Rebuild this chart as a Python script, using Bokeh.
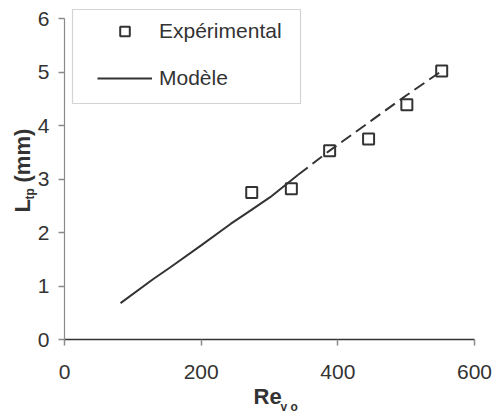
import math
from bokeh.plotting import figure
from bokeh.models import (FixedTicker, Range1d, Legend, LegendItem, Label,
                          BoxAnnotation)
from bokeh.embed import file_html
from bokeh.resources import INLINE

# ---- data ----
exp_re = [274, 332, 388, 445, 501, 552]
exp_l = [2.75, 2.82, 3.53, 3.75, 4.39, 5.02]

model_re = [82, 130, 155, 200, 243, 272, 301, 342]
model_l = [0.68, 1.13, 1.35, 1.76, 2.16, 2.41, 2.66, 3.08]

extra_re = [342, 388, 450, 500, 552]
extra_l = [3.08, 3.53, 4.10, 4.56, 5.02]

x_ticks = [0, 200, 400, 600]
y_ticks = [0, 1, 2, 3, 4, 5, 6]

FONT = "Liberation Sans"
DARK = "#333333"

# ---- geometry (canvas pixels) ----
W, H = 495, 417
AX_L, AX_R, AX_T, AX_B = 64, 474, 18, 339   # where 0..600 / 0..6 fall
kx = (AX_R - AX_L) / 600.0
ky = (AX_B - AX_T) / 6.0

p = figure(width=W, height=H, output_backend="svg", toolbar_location=None,
           x_range=Range1d(-AX_L / kx, (W - AX_L) / kx),
           y_range=Range1d(-(H - AX_B) / ky, AX_B / ky),
           min_border=0)
p.outline_line_color = None
p.grid.visible = False
p.background_fill_color = "white"
p.border_fill_color = "white"

for ax in (p.xaxis[0], p.yaxis[0]):
    ax.major_label_text_font = FONT
    ax.major_label_text_font_size = "21px"
    ax.major_label_text_color = DARK
    ax.major_tick_in = 0
    ax.major_tick_out = 6
    ax.minor_tick_line_color = None
    ax.major_tick_line_color = "#8a8a8a"
    ax.major_tick_line_width = 1.5
    ax.axis_label = None
    ax.fixed_location = 0

p.xaxis.ticker = FixedTicker(ticks=x_ticks)
p.yaxis.ticker = FixedTicker(ticks=y_ticks)
p.xaxis.bounds = (x_ticks[0], x_ticks[-1])
p.yaxis.bounds = (y_ticks[0], y_ticks[-1])
p.xaxis.axis_line_color = DARK
p.xaxis.axis_line_width = 1.5
p.yaxis.axis_line_color = "#8a8a8a"
p.yaxis.axis_line_width = 1.2
p.xaxis.major_label_standoff = 19
p.yaxis.major_label_standoff = 9

model = p.line(model_re, model_l, line_color=DARK, line_width=2)
p.line(extra_re, extra_l, line_color=DARK, line_width=2, line_dash="12 6")
exp = p.scatter(exp_re, exp_l, marker="square", size=11, line_color=DARK,
                line_width=2, fill_alpha=0)

# legend: items placed in frame screen units (origin bottom-left)
legend = Legend(items=[LegendItem(label="Expérimental", renderers=[exp]),
                       LegendItem(label="Modèle", renderers=[model])],
                location=(97, H - 90), padding=0, margin=0,
                glyph_width=55, glyph_height=24, label_height=24,
                spacing=23, label_standoff=7,
                label_text_font=FONT, label_text_font_size="21px",
                label_text_color=DARK,
                border_line_alpha=0, background_fill_alpha=0)
p.add_layout(legend)

box = BoxAnnotation(left=72, right=300, bottom=H - 103, top=H - 9,
                    left_units="screen", right_units="screen",
                    bottom_units="screen", top_units="screen",
                    fill_alpha=0, line_color="#6e6e6e", line_width=1.2,
                    level="overlay")
p.add_layout(box)


def lab(px, py, text, size, angle=0.0):
    p.add_layout(Label(x=px, y=H - py, x_units="screen", y_units="screen",
                       text=text, angle=angle, text_font=FONT,
                       text_font_style="bold", text_font_size=size,
                       text_color=DARK, text_baseline="alphabetic",
                       text_align="left"))


# x axis label: Re with subscript "v o"
lab(253, 396, "Re", "22px")
lab(280, 406, "v o", "12px")
# y axis label: L with subscript "tp" then (mm), rotated
lab(22, 212, "L", "22px", math.pi / 2)
lab(29, 199, "tp", "12px", math.pi / 2)
lab(22, 182, "(mm)", "22px", math.pi / 2)

open("out.html", "w").write(file_html(p, INLINE))
